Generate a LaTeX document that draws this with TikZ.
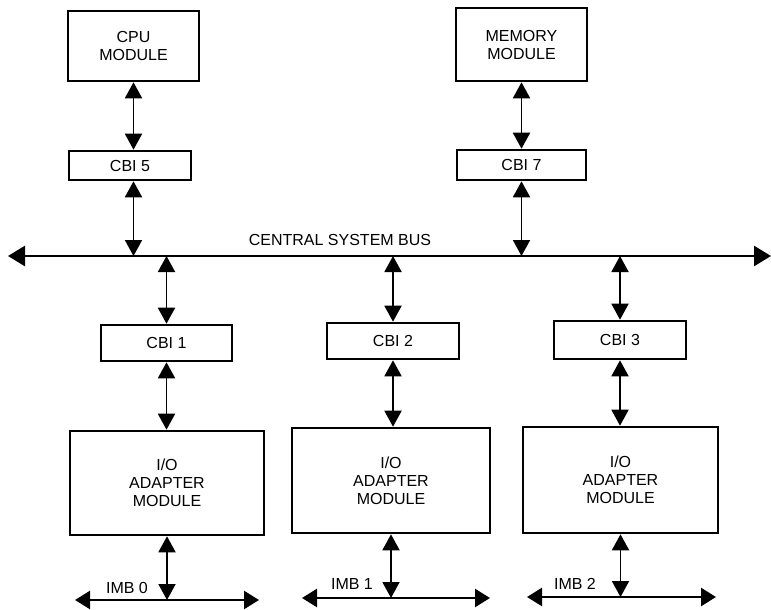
\documentclass[tikz,border=0pt]{standalone}
\usepackage{fontspec}
\setmainfont{Liberation Sans}
\usetikzlibrary{arrows.meta}
\begin{document}
\begin{tikzpicture}[x=1pt,y=-1pt,
  box/.style={draw, line width=2.6pt, inner sep=0pt, align=center, font=\fontsize{16}{18}\selectfont},
  link/.style={line width=1.9pt, {Triangle[length=16pt,width=17pt]}-{Triangle[length=16pt,width=17pt]}},
  busline/.style={line width=2.7pt, {Triangle[length=17pt,width=20pt]}-{Triangle[length=17pt,width=20pt]}},
  imbline/.style={line width=2.5pt, {Triangle[length=15pt,width=18pt]}-{Triangle[length=15pt,width=18pt]}},
  lbl/.style={inner sep=0pt, font=\fontsize{16}{18}\selectfont}]
\useasboundingbox (0,0) rectangle (771,610);
% top modules
\node[box, minimum width=131pt, minimum height=70pt] (cpu) at (133.5,46) {CPU\\MODULE};
\node[box, minimum width=131pt, minimum height=73pt] (mem) at (521.5,44.5) {MEMORY\\MODULE};
\node[box, minimum width=122pt, minimum height=29pt] (cbi5) at (130,165.5) {CBI 5};
\node[box, minimum width=129pt, minimum height=30pt] (cbi7) at (521.5,165) {CBI 7};
% bus
\coordinate (busL) at (8,256);
\coordinate (busR) at (771,256);
\draw[busline] (busL) -- (busR);
\node[lbl] (buslbl) at (340,240) {CENTRAL SYSTEM BUS};
% lower CBIs
\node[box, minimum width=131pt, minimum height=36pt] (cbi1) at (166.5,343) {CBI 1};
\node[box, minimum width=132pt, minimum height=36pt] (cbi2) at (393,341) {CBI 2};
\node[box, minimum width=132pt, minimum height=38pt] (cbi3) at (620,340) {CBI 3};
% IO modules
\node[box, minimum width=194pt, minimum height=104pt] (io1) at (167,483) {I/O\\ADAPTER\\MODULE};
\node[box, minimum width=198pt, minimum height=105pt] (io2) at (391,480.5) {I/O\\ADAPTER\\MODULE};
\node[box, minimum width=195pt, minimum height=106pt] (io3) at (620.5,480) {I/O\\ADAPTER\\MODULE};
% IMB buses
\coordinate (imb0L) at (75,600);
\coordinate (imb0R) at (259,600);
\coordinate (imb1L) at (302,598);
\coordinate (imb1R) at (490,598);
\coordinate (imb2L) at (527,597);
\coordinate (imb2R) at (716,597);
\draw[imbline] (imb0L) -- (imb0R);
\draw[imbline] (imb1L) -- (imb1R);
\draw[imbline] (imb2L) -- (imb2R);
\node[lbl] (imb0lbl) at (127,588) {IMB 0};
\node[lbl] (imb1lbl) at (352,584) {IMB 1};
\node[lbl] (imb2lbl) at (575,584) {IMB 2};
% links top
\draw[link] (cpu.south) -- (cpu.south |- cbi5.north);
\draw[link] (cbi5.south -| cpu.south) -- (cpu.south |- busL);
\draw[link] (mem.south) -- (mem.south |- cbi7.north);
\draw[link] (cbi7.south) -- (cbi7.south |- busL);
% links bottom
\draw[link] (cbi1.north |- busL) -- (cbi1.north);
\draw[link] (cbi2.north |- busL) -- (cbi2.north);
\draw[link] (cbi3.north |- busL) -- (cbi3.north);
\draw[link] (cbi1.south) -- (cbi1.south |- io1.north);
\draw[link] (cbi2.south) -- (cbi2.south |- io2.north);
\draw[link] (cbi3.south) -- (cbi3.south |- io3.north);
\draw[link] (io1.south) -- (io1.south |- imb0L);
\draw[link] (io2.south) -- (io2.south |- imb1L);
\draw[link] (io3.south) -- (io3.south |- imb2L);
\end{tikzpicture}
\end{document}
